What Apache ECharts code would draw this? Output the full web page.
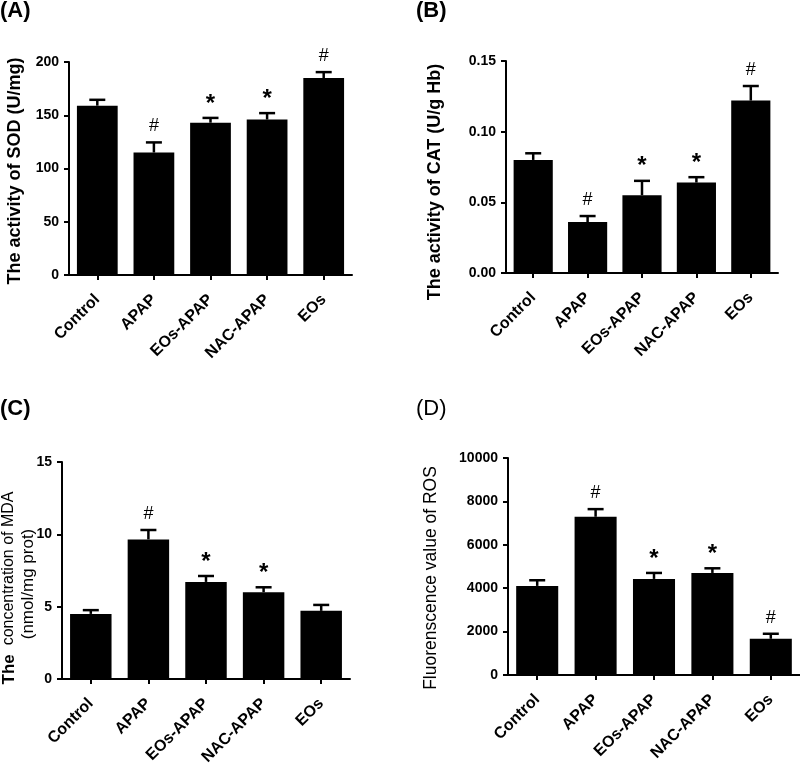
<!DOCTYPE html>
<html>
<head>
<meta charset="utf-8">
<script src="https://cdn.jsdelivr.net/npm/echarts@6/dist/echarts.min.js"></script>
<style>html,body{margin:0;padding:0;background:#fff}#c{width:800px;height:775px}</style>
</head>
<body>
<div id="c"></div>
<script>
const categories = ['Control', 'APAP', 'EOs-APAP', 'NAC-APAP', 'EOs'];

const sodMean = [159, 115, 143, 146, 185];
const sodErr = [5.5, 9.5, 4.5, 6, 5.5];
const sodMarks = ['', '#', '*', '*', '#'];
const sodTicks = [0, 50, 100, 150, 200];

const catMean = [0.080, 0.036, 0.055, 0.064, 0.122];
const catErr = [0.0047, 0.0043, 0.0102, 0.0038, 0.0103];
const catMarks = ['', '#', '*', '*', '#'];
const catTicks = ['0.00', '0.05', '0.10', '0.15'];

const mdaMean = [4.5, 9.65, 6.71, 6.0, 4.71];
const mdaErr = [0.26, 0.65, 0.41, 0.34, 0.41];
const mdaMarks = ['', '#', '*', '*', ''];
const mdaTicks = [0, 5, 10, 15];

const rosMean = [4105, 7292, 4428, 4703, 1670];
const rosErr = [261, 352, 275, 214, 230];
const rosMarks = ['', '#', '*', '*', '#'];
const rosTicks = [0, 2000, 4000, 6000, 8000, 10000];

const FONT = "'Liberation Sans', Arial, sans-serif";

const panels = [
  {mean: sodMean, err: sodErr, marks: sodMarks, max: 200, interval: 50, fmt: v => String(v),
   grid: {left: 69, top: 62, width: 283, height: 213}},
  {mean: catMean, err: catErr, marks: catMarks, max: 0.15, interval: 0.05, fmt: v => v.toFixed(2),
   grid: {left: 506, top: 61, width: 272, height: 212}},
  {mean: mdaMean, err: mdaErr, marks: mdaMarks, max: 15, interval: 5, fmt: v => String(v),
   grid: {left: 62, top: 462, width: 288, height: 217}},
  {mean: rosMean, err: rosErr, marks: rosMarks, max: 10000, interval: 2000, fmt: v => String(v),
   grid: {left: 508, top: 458, width: 294, height: 217}}
];

const axisLine = {show: true, lineStyle: {color: '#000', width: 2}};
const axisTick = {show: true, inside: false, length: 5, lineStyle: {color: '#000', width: 2}};

const grids = [], xAxes = [], yAxes = [], series = [];
panels.forEach((p, i) => {
  grids.push(Object.assign({containLabel: false}, p.grid));
  xAxes.push({
    type: 'category', gridIndex: i, data: categories, boundaryGap: true,
    axisLine, axisTick: Object.assign({alignWithLabel: true}, axisTick),
    axisLabel: {rotate: 45, color: '#000', fontFamily: FONT, fontWeight: 'bold', fontSize: 16, margin: 22, interval: 0},
    splitLine: {show: false}
  });
  yAxes.push({
    type: 'value', gridIndex: i, min: 0, max: p.max, interval: p.interval,
    axisLine, axisTick,
    axisLabel: {color: '#000', fontFamily: FONT, fontWeight: 'bold', fontSize: 14, margin: 10, formatter: p.fmt},
    splitLine: {show: false}
  });
  series.push({
    type: 'bar', xAxisIndex: i, yAxisIndex: i, data: p.mean, barWidth: '72%',
    itemStyle: {color: '#000'}, silent: true, animation: false
  });
  series.push({
    type: 'custom', xAxisIndex: i, yAxisIndex: i, animation: false, silent: true,
    data: p.mean.map((m, k) => [k, m, p.err[k], p.marks[k]]),
    renderItem: (params, api) => {
      const k = api.value(0);
      const base = api.coord([k, api.value(1)]);
      const top = api.coord([k, api.value(1) + api.value(2)]);
      const mark = p.marks[k];
      const children = [
        {type: 'line', shape: {x1: base[0], y1: base[1], x2: top[0], y2: top[1]}, style: {stroke: '#000', lineWidth: 2.5}},
        {type: 'line', shape: {x1: top[0] - 8, y1: top[1], x2: top[0] + 8, y2: top[1]}, style: {stroke: '#000', lineWidth: 2.5}}
      ];
      if (mark) {
        children.push({
          type: 'text',
          style: {
            text: mark, x: top[0], y: top[1] - (mark === '*' ? 2 : 7),
            align: 'center', verticalAlign: 'bottom',
            fontFamily: FONT, fontSize: mark === '*' ? 24 : 18,
            fontWeight: mark === '*' ? 'bold' : 'normal', fill: '#000'
          }
        });
      }
      return {type: 'group', children};
    }
  });
});

const graphic = [
  {type: 'text', left: 0, top: 0, style: {text: '(A)', font: 'bold 22px ' + FONT, fill: '#000'}},
  {type: 'text', left: 416, top: 0, style: {text: '(B)', font: 'bold 22px ' + FONT, fill: '#000'}},
  {type: 'text', left: 0, top: 398, style: {text: '(C)', font: 'bold 22px ' + FONT, fill: '#000'}},
  {type: 'text', left: 416, top: 398, style: {text: '(D)', font: '22px ' + FONT, fill: '#000'}},
  {type: 'text', x: 15, y: 171, rotation: Math.PI / 2,
   style: {text: 'The activity of SOD (U/mg)', font: 'bold 18px ' + FONT, fill: '#000', align: 'center', verticalAlign: 'middle'}},
  {type: 'text', x: 435, y: 182, rotation: Math.PI / 2,
   style: {text: 'The activity of CAT (U/g Hb)', font: 'bold 18px ' + FONT, fill: '#000', align: 'center', verticalAlign: 'middle'}},
  {type: 'text', x: 9, y: 588, rotation: Math.PI / 2,
   style: {text: '{b|The}  concentration of MDA', font: '16px ' + FONT, fill: '#000', align: 'center', verticalAlign: 'middle',
     rich: {b: {fontWeight: 'bold', fontSize: 17, fontFamily: FONT}}}},
  {type: 'text', x: 28, y: 584, rotation: Math.PI / 2,
   style: {text: '(nmol/mg prot)', font: '17px ' + FONT, fill: '#000', align: 'center', verticalAlign: 'middle'}},
  {type: 'text', x: 431, y: 578, rotation: Math.PI / 2,
   style: {text: 'Fluorenscence value of ROS', font: '17.5px ' + FONT, fill: '#000', align: 'center', verticalAlign: 'middle'}}
];

const chart = echarts.init(document.getElementById('c'), null, {renderer: 'canvas'});
chart.setOption({
  animation: false,
  backgroundColor: '#fff',
  grid: grids, xAxis: xAxes, yAxis: yAxes, series, graphic
});
</script>
</body>
</html>
